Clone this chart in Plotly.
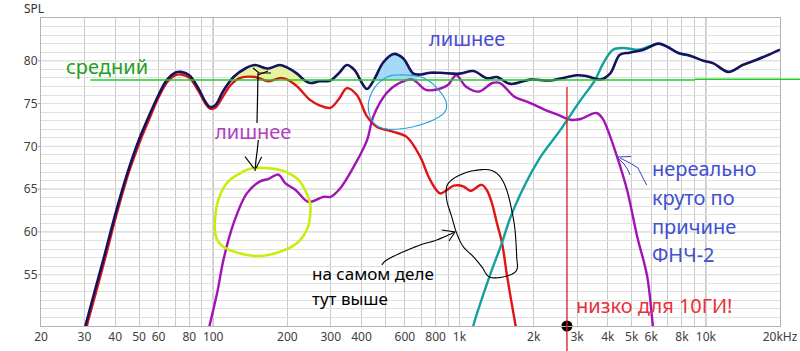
import numpy as np
import plotly.graph_objects as go

# ---------------- data ----------------
navy_f = [29.5, 30.3, 33, 36, 40, 45, 50, 54, 60, 65, 70, 74, 80, 87, 93, 97, 102, 110, 121, 135,
          148, 160, 168, 186, 200, 219, 235, 248, 270, 299, 325, 349, 375, 400, 421, 450, 490, 540, 590, 650,
          700, 760, 834, 1000, 1140, 1291, 1419, 1607, 1936, 2334, 2993, 3291, 3724, 4084, 4477, 4900, 5585,
          6424, 6950, 7745, 8630, 9775, 10740, 12340, 14100, 16000, 18000, 20000]
navy_db = [47.5, 49, 53, 57, 62, 67, 70.8, 73.1, 76, 77.8, 78.6, 78.7, 78.3, 76.8, 75.2, 74.6, 74.8, 76.5, 78.1, 79.1,
           79.5, 79.2, 79.1, 79.5, 79.2, 78.5, 77.7, 77.4, 77.6, 77.7, 78.6, 79.5, 78.9, 77.5, 76.7, 77.8, 79.8, 80.8, 80.3, 78.5,
           78.4, 78.6, 78.6, 78.5, 78.8, 77.96, 78.1, 77.3, 77.8, 77.7, 78.3, 78.2, 77.8, 78.5, 80.7, 80.95, 81.3,
           82.0, 81.65, 80.9, 80.6, 80.0, 79.7, 78.7, 79.5, 80.1, 80.7, 81.3]

red_f = [30.0, 30.7, 33.5, 36.5, 40.5, 45.5, 50.5, 54.5, 60, 65, 70, 74, 80, 87, 93, 97, 102, 110, 118, 129,
         148, 168, 188, 200, 219, 248, 270, 299, 325, 349, 383, 421, 461, 540, 610, 692, 759, 834, 889, 948,
         1040, 1107, 1230, 1290, 1353, 1419, 1488, 1561, 1690, 1730]
red_db = [47.5, 49, 53, 57, 62, 67, 70.6, 72.9, 75.7, 77.5, 78.3, 78.4, 78.0, 76.5, 75.0, 74.4, 74.5, 75.9, 77.2, 78.0,
          78.1, 77.6, 78.0, 77.8, 77.0, 75.4, 74.8, 74.5, 75.6, 76.8, 76.0, 73.5, 72.3, 71.7, 71.1, 68.8, 66.1, 64.5, 64.9, 65.4,
          65.3, 64.8, 65.5, 64.9, 63.4, 61.0, 58.7, 54.8, 49, 47.5]

purple_f = [94, 96.6, 104, 110, 121, 137, 155, 168, 184, 196, 216, 244, 280, 300, 328, 375, 421, 447, 505, 570,
            645, 730, 826, 900, 970, 1060, 1200, 1360, 1460, 1670, 1890, 2210, 2500, 2820, 3100, 3600, 3800, 4000,
            4360, 4790, 5260, 5780, 6100, 6250]
purple_db = [47.5, 49, 53, 56.7, 61.0, 64.5, 65.9, 66.2, 66.7, 65.7, 64.9, 63.5, 64.1, 64.1, 65.1, 67.8, 70.7, 73.5, 76.2, 77.4,
             77.8, 76.6, 76.7, 77.2, 78.3, 77.0, 76.4, 77.4, 77.4, 75.8, 75.2, 74.3, 73.7, 73.1, 73.2, 73.9, 73.3, 71.9,
             68.8, 64.9, 59.5, 54.8, 49, 47]

teal_f = [1110, 1137, 1332, 1469, 1656, 2093, 2565, 3100, 3560, 3830, 4200, 4625, 5320, 6424, 6950, 7745, 8630]
teal_db = [47.5, 49, 55.0, 58.3, 62.6, 68.4, 71.9, 75.4, 77.8, 79.7, 81.3, 81.5, 81.3, 82.0, 81.65, 80.9, 80.6]

avg_level = 77.75        # "средний" line
avg_level_hi = 77.85     # after the small step
avg_start_f = 31.7
avg_step_f = 9040
crossover_f = 2730       # red marker line / black dot
yellow_band = (118, 235)  # highlighted excess (navy vs red)
blue_band = (447, 675)    # highlighted excess (navy vs average)

x_tickvals = [20, 30, 40, 50, 60, 70, 80, 90, 100, 200, 300, 400, 500, 600, 700, 800, 900,
              1000, 2000, 3000, 4000, 5000, 6000, 7000, 8000, 9000, 10000, 20000]
x_ticktext = ["20", "30", "40", "50", "60", "", "80", "", "100", "200", "300", "400", "", "600", "", "800", "",
              "1k", "2k", "3k", "4k", "5k", "6k", "", "8k", "", "10k", "20kHz"]
y_ticks = [55, 60, 65, 70, 75, 80]
y_range = [49, 85]
x_range_hz = [20, 20000]

# ---------------- layout geometry ----------------
W, H = 800, 351
ML, MR, MT, MB = 41, 20, 18, 25
PW, PH = W - ML - MR, H - MT - MB
FONT = "Noto Sans"


def px(x):
    return (x - ML) / PW


def py(y):
    return (H - MB - y) / PH


def fx(f):
    lo, hi = np.log10(x_range_hz[0]), np.log10(x_range_hz[1])
    return (np.log10(f) - lo) / (hi - lo)


def smooth(points, closed=True, n=8):
    pts = np.array(points, dtype=float)
    out = []
    m = len(pts)
    rng = range(m) if closed else range(m - 1)
    for i in rng:
        p0 = pts[(i - 1) % m] if closed else pts[max(i - 1, 0)]
        p1 = pts[i]
        p2 = pts[(i + 1) % m] if closed else pts[i + 1]
        p3 = pts[(i + 2) % m] if closed else pts[min(i + 2, m - 1)]
        for t in np.linspace(0, 1, n, endpoint=False):
            t2, t3 = t * t, t * t * t
            q = 0.5 * ((2 * p1) + (-p0 + p2) * t + (2 * p0 - 5 * p1 + 4 * p2 - p3) * t2 + (-p0 + 3 * p1 - 3 * p2 + p3) * t3)
            out.append(q)
    out.append(pts[0] if closed else pts[-1])
    return out


def path_from_px(points):
    return "M " + " L ".join(f"{px(x):.5f},{py(y):.5f}" for x, y in points)


def line_shape(points, color, width, closed=False, smooth_it=False):
    pts = smooth(points, closed) if smooth_it else points
    return dict(type="path", xref="paper", yref="paper", path=path_from_px(pts),
                line=dict(color=color, width=width), fillcolor="rgba(0,0,0,0)", layer="above")


fig = go.Figure()

# ---- highlighted fills ----
nf, nd = np.array(navy_f), np.array(navy_db)
rf, rd = np.array(red_f), np.array(red_db)
lo, hi = yellow_band
rmask = (rf >= lo) & (rf <= hi)
nmask = (nf >= lo) & (nf <= hi)
fig.add_trace(go.Scatter(x=rf[rmask], y=rd[rmask], mode="lines", line=dict(width=0, shape="spline"),
                         hoverinfo="skip", showlegend=False))
fig.add_trace(go.Scatter(x=nf[nmask], y=nd[nmask], mode="lines", line=dict(width=0, shape="spline"),
                         fill="tonexty", fillcolor="rgba(228,242,150,0.9)", hoverinfo="skip", showlegend=False))
lo, hi = blue_band
bmask = (nf >= lo) & (nf <= hi)
fig.add_trace(go.Scatter(x=[lo, hi], y=[avg_level, avg_level], mode="lines", line=dict(width=0),
                         hoverinfo="skip", showlegend=False))
fig.add_trace(go.Scatter(x=np.concatenate([[lo], nf[bmask], [hi]]),
                         y=np.concatenate([[np.interp(np.log10(lo), np.log10(nf), nd)], nd[bmask],
                                           [np.interp(np.log10(hi), np.log10(nf), nd)]]),
                         mode="lines", line=dict(width=0, shape="spline"),
                         fill="tonexty", fillcolor="rgba(150,210,245,0.85)", hoverinfo="skip", showlegend=False))

# ---- curves ----
fig.add_trace(go.Scatter(x=red_f, y=red_db, mode="lines", line=dict(color="#e01414", width=2.4, shape="spline"),
                         showlegend=False))
fig.add_trace(go.Scatter(x=purple_f, y=purple_db, mode="lines", line=dict(color="#a014b4", width=2.4, shape="spline"),
                         showlegend=False))
fig.add_trace(go.Scatter(x=teal_f, y=teal_db, mode="lines", line=dict(color="#12a0a0", width=2.4, shape="spline"),
                         showlegend=False))
fig.add_trace(go.Scatter(x=navy_f, y=navy_db, mode="lines", line=dict(color="#14145e", width=2.6, shape="spline"),
                         showlegend=False))
# black dot at crossover
fig.add_trace(go.Scatter(x=[crossover_f], y=[y_range[0]], mode="markers", marker=dict(color="black", size=11),
                         cliponaxis=False, showlegend=False))

shapes = []
# darker decade lines
for f in [100, 1000, 10000]:
    shapes.append(dict(type="line", xref="paper", yref="paper", x0=fx(f), x1=fx(f), y0=0, y1=1,
                       line=dict(color="#8a8a8a", width=1), layer="below"))
# major horizontal grid lines and their small tick stubs
for v in y_ticks:
    shapes.append(dict(type="line", xref="paper", yref="y", x0=0, x1=1, y0=v, y1=v,
                       line=dict(color="#c2c2c2", width=1), layer="below"))
    shapes.append(dict(type="line", xref="paper", yref="y", x0=px(38), x1=0, y0=v, y1=v,
                       line=dict(color="#a8a8a8", width=1), layer="below"))
# average line (green)
shapes.append(dict(type="line", xref="paper", yref="y", x0=fx(avg_start_f), x1=fx(avg_step_f),
                   y0=avg_level, y1=avg_level, line=dict(color="#22cc22", width=1.5)))
shapes.append(dict(type="line", xref="paper", yref="y", x0=fx(avg_step_f), x1=px(W),
                   y0=avg_level_hi, y1=avg_level_hi, line=dict(color="#22cc22", width=1.5)))
# red marker line
shapes.append(dict(type="line", xref="paper", yref="paper", x0=fx(crossover_f), x1=fx(crossover_f),
                   y0=py(H), y1=py(87), line=dict(color="#e01414", width=1.3)))

# hand-drawn decorations (pixel coordinates of the picture)
lime = [(255, 168), (280, 170), (296.7, 178.3), (305, 190), (310, 203.3), (310, 216.7), (306.7, 230), (296.7, 243.3),
        (280, 251.7), (260, 256), (240, 253.3), (223.3, 246.7), (216, 236.7), (215, 220), (218.3, 200), (226.7, 183.3),
        (240, 173.3)]
shapes.append(line_shape(lime, "#c8ee0a", 2.6, closed=True, smooth_it=True))
cyan = [(396.7, 75), (416.7, 76), (430, 81.7), (440, 91.7), (446, 101.7), (445, 111.7), (433.3, 120), (413.3, 126.7),
        (393.3, 129.3), (380, 127.3), (371.7, 120), (368.3, 108.3), (370, 96.7), (376.7, 85), (386.7, 77.3)]
shapes.append(line_shape(cyan, "#1ea0e0", 1.1, closed=True, smooth_it=True))
loop = [(460, 175), (473.3, 170.7), (490, 170), (500, 176.7), (506.7, 190), (511.7, 210), (515, 230), (516.7, 256.7),
        (516.7, 270), (506.7, 276), (490, 277.3), (481.7, 266.7), (473.3, 256.7), (463.3, 246.7), (456.7, 233.3),
        (451.7, 216.7), (446.7, 200), (446.7, 186.7), (451.7, 180)]
shapes.append(line_shape(loop, "black", 1.1, closed=True, smooth_it=True))
arrow1 = [(381.7, 265), (386.7, 260), (400, 253.3), (420, 245), (436.7, 240), (454, 232.5)]
shapes.append(line_shape(arrow1, "black", 1.1, smooth_it=True))
shapes.append(line_shape([(441.7, 230), (455, 232), (449, 241)], "black", 1.1))
# arrows from purple "лишнее"
shapes.append(line_shape([(257, 123), (257.5, 100), (258, 73)], "black", 1.2))
shapes.append(line_shape([(253, 68), (259, 73), (271, 73)], "black", 1.1))
shapes.append(line_shape([(258, 75), (268, 71)], "black", 1.1))
shapes.append(line_shape([(258.3, 140), (257.3, 150), (256, 160), (255, 171)], "black", 1.2))
shapes.append(line_shape([(245, 156.7), (254, 168.3)], "black", 1.1))
shapes.append(line_shape([(261.7, 156.7), (256, 168.3)], "black", 1.1))
# small blue arrow
shapes.append(line_shape([(618, 157), (631, 156.5)], "#3a3ac8", 1))
shapes.append(line_shape([(618, 158), (624, 164), (628, 170), (630, 175)], "#3a3ac8", 1))
shapes.append(line_shape([(620, 158), (630, 163), (638, 168), (642, 176), (646.7, 185)], "#3a3ac8", 1))

annotations = []


def txt(s, x, y, color, size=20, xanchor="left"):
    annotations.append(dict(text=s, xref="paper", yref="paper", x=px(x), y=py(y), xanchor=xanchor,
                            yanchor="middle", showarrow=False, font=dict(family=FONT, size=size, color=color)))


txt("средний", 106.5, 66, "#22a022", xanchor="center")
txt("лишнее", 467, 38, "#4a4ad4", xanchor="center")
txt("лишнее", 253, 131, "#b040c0", xanchor="center")
txt("нереально", 650, 168.5, "#4050d0")
txt("круто по", 650, 197, "#4050d0")
txt("причине", 650, 226, "#4050d0")
txt("ФНЧ-2", 650, 255, "#4050d0")
txt("на самом деле", 310, 273, "black", size=17)
txt("тут выше", 310, 298, "black", size=17)
txt("низко для 10ГИ!", 574, 305, "#e8303a")
txt("SPL", 34, 9, "#333333", size=12, xanchor="center")

fig.update_layout(
    template="none",
    width=W, height=H, margin=dict(l=ML, r=MR, t=MT, b=MB, pad=0, autoexpand=False),
    paper_bgcolor="white", plot_bgcolor="white",
    shapes=shapes, annotations=annotations, showlegend=False,
    xaxis=dict(type="log", range=[np.log10(x_range_hz[0]), np.log10(x_range_hz[1])],
               tickmode="array", tickvals=x_tickvals, ticktext=x_ticktext, automargin=False,
               showgrid=True, gridcolor="#cacaca", gridwidth=1, ticks="",
               showline=True, linecolor="#b4b4b4", linewidth=1, mirror=True, zeroline=False,
               tickfont=dict(family=FONT, size=12, color="#404040")),
    yaxis=dict(range=y_range, tickmode="array", tickvals=list(range(49, 86)),
               ticktext=[str(v) if v in y_ticks else "" for v in range(49, 86)], automargin=False,
               showgrid=True, gridcolor="#e0e0e0", gridwidth=1, ticks="",
               showline=True, linecolor="#b4b4b4", linewidth=1, mirror=True, zeroline=False,
               tickfont=dict(family=FONT, size=12, color="#404040")),
)

fig.write_html("out.html")
